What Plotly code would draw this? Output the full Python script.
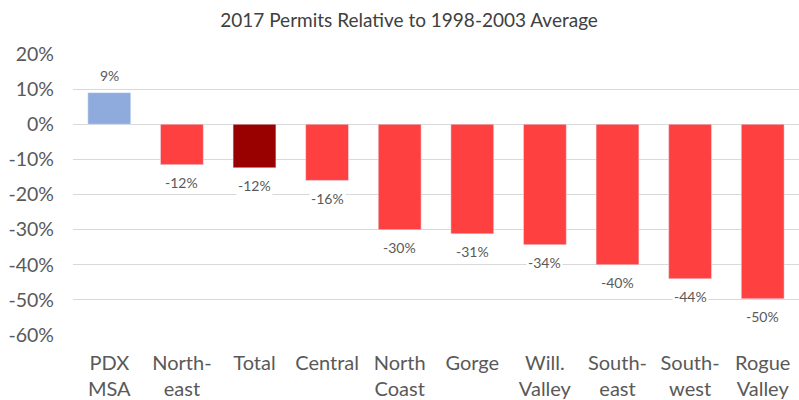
import plotly.graph_objects as go

categories = ["PDX<br>MSA", "North-<br>east", "Total", "Central", "North<br>Coast",
              "Gorge", "Will.<br>Valley", "South-<br>east", "South-<br>west", "Rogue<br>Valley"]
values = [0.09, -0.115, -0.124, -0.16, -0.30, -0.312, -0.343, -0.40, -0.44, -0.497]
labels = ["9%", "-12%", "-12%", "-16%", "-30%", "-31%", "-34%", "-40%", "-44%", "-50%"]
colors = ["#8FAADC", "#FF4040", "#990000", "#FF4040", "#FF4040",
          "#FF4040", "#FF4040", "#FF4040", "#FF4040", "#FF4040"]
y_ticks = [0.2, 0.1, 0.0, -0.1, -0.2, -0.3, -0.4, -0.5, -0.6]
y_tick_labels = ["20%", "10%", "0%", "-10%", "-20%", "-30%", "-40%", "-50%", "-60%"]

FONT = "Lato, Carlito, Calibri, sans-serif"

fig = go.Figure(go.Bar(
    x=categories, y=values, marker_color=colors, width=0.59,
))

for c, v, t in zip(categories, values, labels):
    fig.add_annotation(x=c, y=v, text=t, showarrow=False, xanchor="center",
                       yanchor="middle", yshift=17 if v >= 0 else -18,
                       bgcolor="white",
                       font=dict(size=14, color="#595959", family=FONT))

fig.update_layout(
    width=799, height=400,
    margin=dict(l=73, r=0, t=54, b=65),
    paper_bgcolor="white", plot_bgcolor="white",
    title=dict(text="2017 Permits Relative to 1998-2003 Average", x=0.512, xanchor="center",
               y=0.95, yanchor="middle",
               font=dict(size=19, color="#404040", family=FONT)),
    showlegend=False,
    font=dict(family=FONT, color="#595959"),
)
fig.update_xaxes(showgrid=False, showline=False, ticks="", ticklabelstandoff=14,
                 tickfont=dict(size=20, color="#595959", family=FONT))
fig.update_yaxes(range=[-0.6, 0.2], tickvals=y_ticks, ticktext=y_tick_labels,
                 showgrid=True, gridcolor="#D9D9D9", gridwidth=1,
                 zeroline=True, zerolinecolor="#D9D9D9", zerolinewidth=1,
                 showline=False, ticks="", ticklabelstandoff=18,
                 tickfont=dict(size=19.5, color="#595959", family=FONT))

fig.write_html("out.html", config={"displayModeBar": False},
               post_script="document.body.style.margin='0';")
